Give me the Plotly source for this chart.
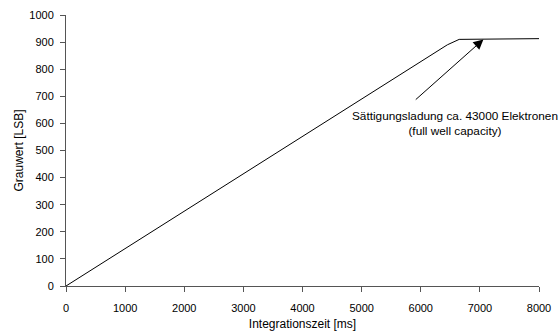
import plotly.graph_objects as go

zeit_ms = [0, 6250, 6450, 6650, 7000, 8100]
grauwert = [0, 865, 890, 910, 911, 913]

x_ticks = [0, 1000, 2000, 3000, 4000, 5000, 6000, 7000, 8000]
y_ticks = [0, 100, 200, 300, 400, 500, 600, 700, 800, 900, 1000]

FONT = "Liberation Sans, Arial"

fig = go.Figure()
fig.add_trace(go.Scatter(x=zeit_ms, y=grauwert, mode="lines",
                         line=dict(color="black", width=1), showlegend=False,
                         cliponaxis=False))

fig.add_annotation(x=7060, y=910, ax=5890, ay=683, xref="x", yref="y",
                   axref="x", ayref="y", text="", showarrow=True,
                   arrowhead=2, arrowsize=2.0, arrowwidth=1, arrowcolor="black")
fig.add_annotation(x=6580, y=601, xref="x", yref="y", showarrow=False,
                   text="Sättigungsladung ca. 43000 Elektronen<br>(full well capacity)",
                   font=dict(family=FONT, size=11.8, color="black"),
                   align="center")

axis_common = dict(showline=True, linecolor="#555", linewidth=1, ticks="outside",
                   tickcolor="#555", ticklen=5, showgrid=False, zeroline=False,
                   tickfont=dict(family=FONT, size=11, color="black"),
                   mirror=False, automargin=False)
fig.update_xaxes(range=[0, 8000], tickvals=x_ticks, ticklabelstandoff=7,
                 title=dict(text="Integrationszeit [ms]", standoff=6,
                            font=dict(family=FONT, size=12, color="black")),
                 **axis_common)
fig.update_yaxes(range=[0, 1000], tickvals=y_ticks, ticklabelstandoff=4,
                 title=dict(text="Grauwert [LSB]", standoff=3,
                            font=dict(family=FONT, size=12, color="black")),
                 **axis_common)

fig.update_layout(width=560, height=331, margin=dict(l=66, r=21, t=15, b=45),
                  plot_bgcolor="white", paper_bgcolor="white")
fig.write_html("out.html")
